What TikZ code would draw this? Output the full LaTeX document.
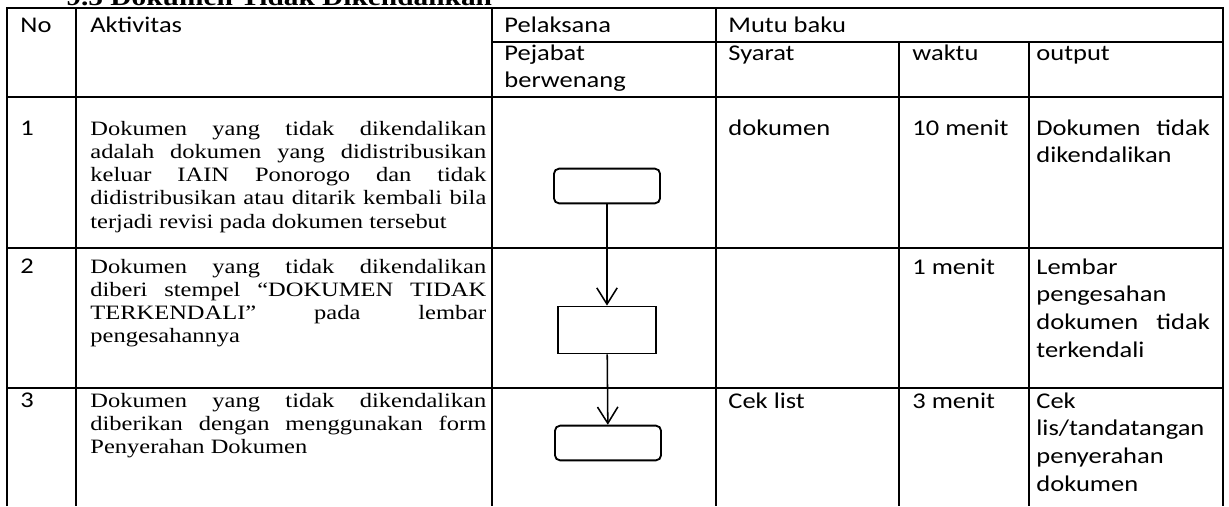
\documentclass[tikz,border=0pt]{standalone}
\usepackage{fontspec}
\setmainfont{Liberation Serif}[FakeStretch=1.2]
\newfontfamily\calibri{Carlito}[FakeStretch=1.18]
\usetikzlibrary{arrows.meta}
\hbadness=10000

\tikzstyle{grid} = [line width=0.75pt]
\tikzstyle{cell} = [anchor=base west,inner sep=0pt,align=left,font=\calibri\fontsize{11pt}{13.7pt}\selectfont]
\tikzstyle{outcell} = [cell,text width=85pt,align=justify]
\tikzstyle{act} = [anchor=base west,inner sep=0pt,text width=194pt,align=justify,font=\fontsize{10pt}{11.4pt}\selectfont]
\tikzstyle{term} = [draw,line width=0.9pt,rounded corners=2.5pt,minimum width=52pt,minimum height=17pt,inner sep=0pt]
\tikzstyle{proc} = [draw,line width=0.9pt,minimum width=48pt,minimum height=23pt,inner sep=0pt]
\tikzstyle{flow} = [line width=0.75pt,-{Straight Barb[length=8pt,width=10pt]}]

\begin{document}
\begin{tikzpicture}[x=0.49pt,y=-0.49pt]
	\useasboundingbox (0,0) rectangle (1229,506);
	% heading, only its lower edge shows
	\node (title) [anchor=base west,inner sep=0pt,font=\bfseries\fontsize{12pt}{14pt}\selectfont] at (66,5) {9.5 Dokumen Tidak Dikendalikan};
	% table rules
	\draw [grid] (7,506) -- (7,8) -- (1223,8) -- (1223,506);
	\draw [grid] (76,8) -- (76,506);
	\draw [grid] (492,8) -- (492,506);
	\draw [grid] (716,8) -- (716,506);
	\draw [grid] (899,42) -- (899,506);
	\draw [grid] (1029,42) -- (1029,506);
	\draw [grid] (492,42) -- (1223,42);
	\draw [grid] (7,97) -- (1223,97);
	\draw [grid] (7,248) -- (1223,248);
	\draw [grid] (7,388) -- (1223,388);
	% header
	\node (hno) [cell] at (20,32) {No};
	\node (hakt) [cell] at (90,32) {Aktivitas};
	\node (hpel) [cell] at (504,32) {Pelaksana};
	\node (hmutu) [cell] at (728,32) {Mutu baku};
	\node (hpej) [outcell] at (504,60) {Pejabat\newline berwenang};
	\node (hsya) [cell] at (728,60) {Syarat};
	\node (hwak) [cell] at (912,60) {waktu};
	\node (hout) [cell] at (1036,60) {output};
	% row 1
	\node (no1) [cell] at (20,135) {1};
	\node (akt1) [act] at (90,135) {Dokumen yang tidak dikendalikan\linebreak adalah dokumen yang didistribusikan\linebreak keluar IAIN Ponorogo dan tidak\linebreak didistribusikan atau ditarik kembali bila\linebreak terjadi revisi pada dokumen tersebut};
	\node (sya1) [cell] at (728,135) {dokumen};
	\node (wak1) [cell] at (912,135) {10 menit};
	\node (out1) [outcell] at (1036,135) {Dokumen tidak\linebreak dikendalikan};
	% row 2
	\node (no2) [cell] at (20,273) {2};
	\node (akt2) [act] at (90,273) {Dokumen yang tidak dikendalikan\linebreak diberi stempel “DOKUMEN TIDAK\linebreak TERKENDALI” pada lembar\linebreak pengesahannya};
	\node (wak2) [cell] at (912,274) {1 menit};
	\node (out2) [outcell] at (1036,274) {Lembar\newline pengesahan\newline dokumen tidak\linebreak terkendali};
	% row 3
	\node (no3) [cell] at (20,407) {3};
	\node (akt3) [act] at (90,407) {Dokumen yang tidak dikendalikan\linebreak diberikan dengan menggunakan form\linebreak Penyerahan Dokumen};
	\node (sya3) [cell] at (728,408) {Cek list};
	\node (wak3) [cell] at (912,408) {3 menit};
	\node (out3) [outcell] at (1036,408) {Cek\newline lis/tandatangan\newline penyerahan\newline dokumen};
	% flow
	\node (start) [term] at (607,186) {};
	\node (stamp) [proc] at (607,330) {};
	\node (handover) [term] at (608,443) {};
	\draw [flow] (start) -- (stamp);
	\draw [flow] (stamp) -- (handover);
\end{tikzpicture}
\end{document}
